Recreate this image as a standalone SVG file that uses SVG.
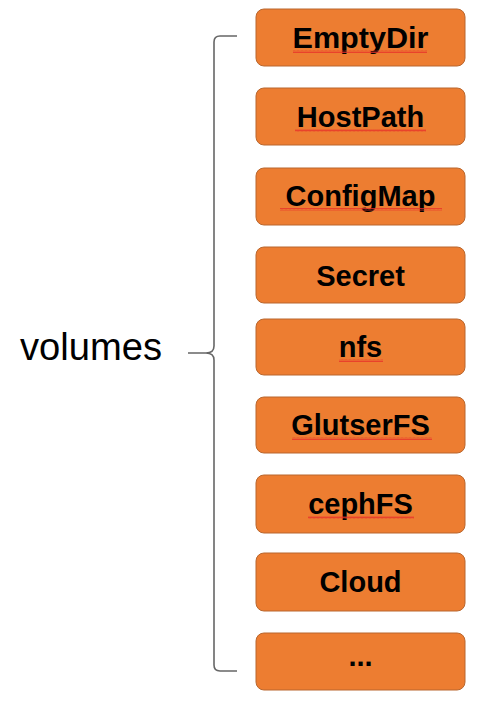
<svg xmlns="http://www.w3.org/2000/svg" width="483" height="705" viewBox="0 0 483 705">
<style>
.box{fill:#ED7D31;stroke:#B9672E;stroke-width:1}
.lbl{font-family:"Liberation Sans",Arial,sans-serif;font-weight:bold;font-size:29px;fill:#000;text-anchor:middle}
.sq{fill:none;stroke:#E8332A;stroke-width:0.9}
.br{fill:none;stroke:#666;stroke-width:1.6}
</style>
<defs>
<pattern id="wave" width="4" height="3" patternUnits="userSpaceOnUse">
<path d="M0,2.5 L1,0.5 L2,2.5 L3,0.5 L4,2.5" fill="none" stroke="#E8332A" stroke-width="0.8"/>
</pattern>
</defs>
<rect width="483" height="705" fill="#fff"/>
<text x="20" y="360" font-family="'Liberation Sans',Arial,sans-serif" font-size="38" fill="#000" textLength="142" lengthAdjust="spacingAndGlyphs">volumes</text>
<g id="connectors">
<path class="br" d="M237,36 L220,36 Q214,36 214,42 L214,346 Q214,353 206,353 L188,353 M206,353 Q214,353 214,360 L214,665 Q214,671 220,671 L237,671"/>
</g>
<g id="n1"><rect class="box" x="256" y="9" width="209" height="57" rx="8"/><text class="lbl" x="360.5" y="48" textLength="136" lengthAdjust="spacingAndGlyphs">EmptyDir</text><rect x="293" y="50" width="134" height="3" fill="url(#wave)"/></g>
<g id="n2"><rect class="box" x="256" y="88" width="209" height="57" rx="8"/><text class="lbl" x="360.5" y="127">HostPath</text><rect x="295" y="129" width="131" height="3" fill="url(#wave)"/></g>
<g id="n3"><rect class="box" x="256" y="168" width="209" height="57" rx="8"/><text class="lbl" x="360.5" y="206">ConfigMap</text><rect x="280" y="208" width="162" height="3" fill="url(#wave)"/></g>
<g id="n4"><rect class="box" x="256" y="247" width="209" height="56" rx="8"/><text class="lbl" x="360.5" y="286">Secret</text></g>
<g id="n5"><rect class="box" x="256" y="319" width="209" height="56" rx="8"/><text class="lbl" x="360.5" y="357">nfs</text><rect x="339" y="359" width="44" height="3" fill="url(#wave)"/></g>
<g id="n6"><rect class="box" x="256" y="397" width="209" height="56" rx="8"/><text class="lbl" x="360.5" y="435">GlutserFS</text><rect x="292" y="437" width="140" height="3" fill="url(#wave)"/></g>
<g id="n7"><rect class="box" x="256" y="475" width="209" height="58" rx="8"/><text class="lbl" x="360.5" y="514">cephFS</text><rect x="308" y="516" width="106" height="3" fill="url(#wave)"/></g>
<g id="n8"><rect class="box" x="256" y="553" width="209" height="58" rx="8"/><text class="lbl" x="360.5" y="592">Cloud</text></g>
<g id="n9"><rect class="box" x="256" y="633" width="209" height="57" rx="8"/><text class="lbl" x="360.5" y="666">...</text></g>
</svg>
